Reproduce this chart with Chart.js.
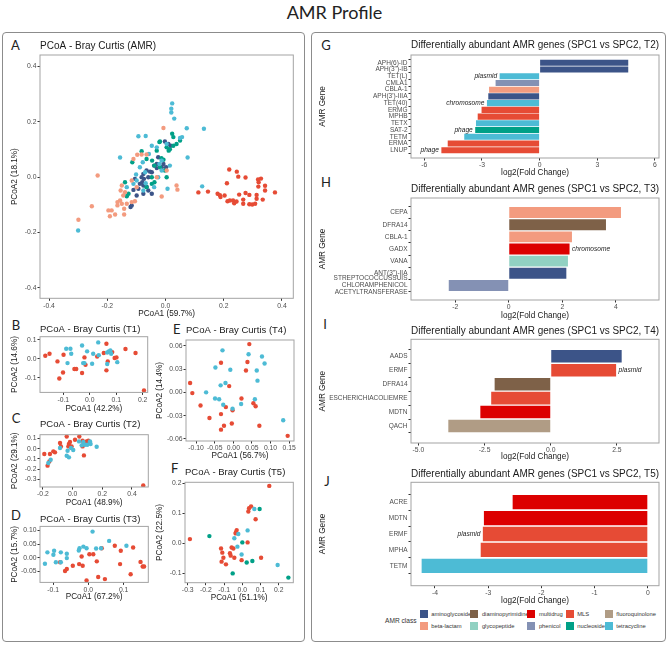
<!DOCTYPE html>
<html>
<head>
<meta charset="utf-8">
<title>AMR Profile</title>
<script src="https://cdn.jsdelivr.net/npm/chart.js@4.4.0/dist/chart.umd.min.js"></script>
<style>
  body { margin: 0; width: 669px; height: 646px; position: relative; background: #fff; overflow: hidden; }
  .box { position: absolute; border: 1px solid #8c8c8c; border-radius: 4px; box-sizing: border-box; }
  .main { position: absolute; left: 0; width: 669px; top: 1px; text-align: center; font-family: Lato, sans-serif; font-size: 18px; line-height: 22px; color: #222; }
  .tag { position: absolute; transform: translate(-50%, -50%); font-family: Lato, sans-serif; font-size: 13px; line-height: 1; color: #222; }
  canvas { position: absolute; }
  .leg { position: absolute; font-family: "Liberation Sans", Arial, sans-serif; color: #333; white-space: nowrap; }
  .leg .sw { position: absolute; width: 8px; height: 8px; }
  .leg span { position: absolute; font-size: 5.8px; line-height: 8px; }
</style>
</head>
<body>
<div class="main">AMR Profile</div>
<div class="box" style="left:2px;top:32px;width:303px;height:610px"></div>
<div class="box" style="left:311px;top:32px;width:355px;height:610px"></div>
<div class="tag" style="left:15.5px;top:44.7px">A</div>
<div class="tag" style="left:16px;top:324.7px">B</div>
<div class="tag" style="left:16px;top:417.8px">C</div>
<div class="tag" style="left:16px;top:515px">D</div>
<div class="tag" style="left:176.7px;top:329px">E</div>
<div class="tag" style="left:174.7px;top:467.8px">F</div>
<div class="tag" style="left:326px;top:45px">G</div>
<div class="tag" style="left:326px;top:181.7px">H</div>
<div class="tag" style="left:325px;top:323.5px">I</div>
<div class="tag" style="left:327px;top:481.3px">J</div>
<div id="legend"></div>
<script>
'use strict';

// * PCoA coordinates [PCoA1, PCoA2], one array per colour group.
const amrSalmon = [[-0.007,0.178],[-0.233,0.006],[-0.253,-0.105],[-0.299,-0.154],[-0.110,0.066],[-0.097,0.081],[-0.082,0.082],[-0.065,0.082],[-0.150,-0.030],[-0.154,-0.048],[-0.145,-0.066],[-0.156,-0.084],[-0.165,-0.090],[-0.150,-0.096],[-0.165,-0.102],[-0.142,-0.114],[-0.133,-0.096],[-0.116,-0.090],[-0.105,-0.087],[-0.196,-0.120],[-0.185,-0.120],[-0.191,-0.141],[-0.173,-0.135],[-0.142,-0.135],[-0.013,-0.070],[0.038,-0.030],[0.041,-0.045],[-0.030,0.000],[0.004,0.024],[-0.116,-0.012],[-0.099,-0.036],[-0.139,-0.054]];
const amrCyan = [[0.023,0.267],[0.020,0.248],[0.020,0.234],[0.030,0.212],[0.073,0.177],[0.132,0.175],[-0.093,0.148],[-0.068,0.149],[-0.156,0.071],[0.076,0.071],[0.126,-0.033],[-0.300,-0.193],[-0.030,0.108],[-0.057,0.084],[-0.013,0.060],[0.015,0.042],[-0.088,0.036],[-0.070,0.018],[-0.101,0.010],[-0.110,-0.024],[-0.021,0.048],[0.007,-0.042],[-0.013,0.024],[0.050,0.142],[0.057,0.145],[-0.047,0.114],[-0.078,0.054],[-0.133,-0.036],[-0.099,-0.012],[-0.068,-0.022],[-0.039,-0.036],[0.004,0.120],[-0.025,0.000],[-0.076,-0.048]];
const amrGreen = [[0.023,0.157],[-0.019,0.129],[0.004,0.108],[0.027,0.114],[0.050,0.133],[0.038,0.120],[-0.082,0.094],[-0.114,0.054],[-0.030,0.096],[-0.014,0.069],[-0.007,0.063],[-0.046,0.060],[-0.019,0.036],[0.004,0.000],[-0.038,-0.018],[-0.065,-0.036],[-0.047,-0.024],[-0.133,-0.069],[-0.139,-0.018],[0.011,0.096],[-0.021,0.127],[-0.065,0.066],[-0.002,0.024],[-0.038,0.042],[0.027,0.145],[0.015,0.101],[-0.047,0.000],[-0.127,-0.060]];
const amrNavy = [[-0.002,0.129],[0.018,0.114],[0.010,0.120],[-0.030,0.048],[-0.039,0.042],[-0.065,0.024],[-0.053,0.020],[-0.047,0.018],[-0.082,0.000],[-0.074,-0.006],[-0.088,-0.024],[-0.076,-0.030],[-0.065,-0.034],[-0.093,-0.042],[-0.120,-0.108],[-0.116,-0.102],[-0.099,-0.066],[-0.076,-0.060],[-0.059,-0.048],[-0.047,-0.060],[-0.110,-0.046],[-0.030,0.033],[-0.013,0.036],[0.002,0.036],[-0.059,0.000],[-0.076,0.012],[-0.025,0.072],[-0.007,0.048],[-0.105,-0.006],[-0.080,-0.018]];
const amrRed = [[0.113,-0.055],[0.146,-0.052],[0.219,0.028],[0.245,0.020],[0.250,0.002],[0.275,-0.001],[0.211,-0.022],[0.179,-0.060],[0.187,-0.065],[0.189,-0.072],[0.203,-0.066],[0.213,-0.087],[0.232,-0.084],[0.236,-0.094],[0.244,-0.088],[0.267,-0.081],[0.267,-0.096],[0.288,-0.064],[0.288,-0.098],[0.298,-0.099],[0.308,-0.096],[0.313,-0.078],[0.318,-0.008],[0.328,-0.005],[0.319,-0.034],[0.342,-0.031],[0.342,-0.048],[0.334,-0.081],[0.376,-0.055],[0.275,-0.057],[0.313,-0.064],[0.320,-0.018],[0.253,-0.063],[0.221,-0.084]];

const t1Red = [[-0.168,0.016],[-0.152,0.026],[-0.122,-0.014],[-0.099,0.021],[-0.101,-0.072],[-0.115,-0.104],[-0.058,-0.054],[-0.051,-0.054],[-0.029,-0.075],[-0.020,0.007],[-0.016,-0.032],[0.028,0.012],[0.053,0.030],[0.063,0.079],[0.068,-0.014],[0.063,-0.061],[0.085,0.035],[0.094,0.004],[0.101,0.007],[0.135,0.051],[0.173,0.030],[0.205,-0.167]];
const t1Cyan = [[-0.089,0.053],[-0.073,0.053],[-0.070,0.026],[-0.029,0.070],[-0.084,-0.023],[-0.025,-0.023],[-0.020,-0.023],[-0.010,0.039],[0.009,-0.026],[0.013,0.026],[0.032,0.086],[0.034,0.019],[0.066,0.033],[0.072,0.039],[0.078,0.044],[0.081,0.026],[0.066,-0.028],[0.104,-0.018]];

const t2Red = [[-0.191,-0.052],[-0.153,-0.052],[-0.130,-0.026],[-0.119,-0.036],[-0.169,-0.167],[-0.157,-0.125],[-0.040,0.121],[-0.085,0.056],[-0.079,0.023],[-0.025,0.046],[-0.029,0.023],[-0.007,0.023],[0.016,0.089],[0.045,0.121],[0.067,0.079],[0.067,0.023],[0.072,0.039],[0.094,0.072],[0.106,0.079],[0.076,-0.066],[0.476,-0.361],[-0.018,0.066]];
const t2Cyan = [[-0.164,-0.141],[-0.148,-0.108],[-0.085,0.007],[-0.040,-0.069],[-0.025,-0.085],[-0.034,-0.020],[-0.011,0.007],[0.004,-0.013],[0.072,0.066],[0.083,0.039],[0.099,0.039],[0.117,0.072],[0.121,0.046],[0.162,0.020],[0.043,0.072],[0.061,0.033]];

const t3Red = [[-0.080,-0.016],[-0.066,-0.048],[-0.061,-0.041],[-0.044,-0.029],[-0.026,-0.023],[-0.019,0.005],[-0.016,-0.029],[-0.005,-0.083],[0.003,0.013],[0.014,0.013],[0.024,-0.013],[0.028,-0.070],[0.038,0.035],[0.047,-0.078],[0.075,0.044],[0.090,-0.023],[0.092,0.026],[0.120,-0.060],[0.127,0.038],[0.148,-0.015],[0.154,-0.032],[0.158,-0.032]];
const t3Cyan = [[-0.123,-0.022],[-0.116,0.020],[-0.099,0.011],[-0.097,0.026],[-0.078,0.020],[-0.092,-0.016],[-0.078,-0.016],[-0.061,0.015],[-0.061,-0.001],[-0.027,0.027],[-0.025,0.035],[-0.014,0.041],[-0.005,0.035],[0.012,0.096],[0.022,0.034],[0.036,0.035],[0.059,0.062],[0.108,0.044]];

const t4Red = [[0.043,0.062],[-0.033,0.038],[0.038,0.039],[0.034,0.028],[-0.116,0.012],[-0.110,-0.001],[-0.088,-0.017],[-0.011,0.008],[-0.020,-0.019],[-0.064,-0.033],[-0.033,-0.028],[0.022,-0.008],[-0.002,-0.023],[0.054,-0.014],[0.060,-0.018],[-0.033,-0.048],[-0.025,-0.043],[-0.004,-0.040],[0.070,-0.043],[0.146,-0.056]];
const t4Cyan = [[-0.029,0.054],[-0.048,0.032],[-0.008,0.029],[0.041,0.049],[0.077,0.046],[0.084,0.037],[0.063,0.028],[0.065,0.015],[-0.034,0.009],[-0.021,0.012],[-0.073,0.000],[-0.049,-0.008],[-0.038,-0.009],[-0.027,-0.016],[-0.002,-0.021],[0.021,-0.015],[0.058,-0.009],[0.134,-0.036]];

const t5Red = [[-0.288,0.014],[-0.117,-0.017],[-0.110,-0.031],[-0.104,-0.048],[-0.114,-0.061],[-0.090,-0.070],[-0.068,-0.033],[-0.064,-0.041],[-0.059,-0.014],[-0.049,-0.017],[-0.044,-0.048],[-0.035,0.037],[-0.031,0.044],[-0.037,0.033],[-0.004,-0.056],[0.029,0.003],[0.033,0.106],[0.037,0.117],[0.048,0.123],[0.073,0.080],[0.103,-0.048],[0.148,0.191]];
const t5Cyan = [[-0.044,0.017],[-0.022,0.031],[-0.027,-0.011],[-0.004,-0.037],[0.029,0.043],[0.066,0.114],[0.194,-0.072]];
const t5Green = [[-0.181,0.024],[0.000,0.003],[0.024,-0.064],[0.055,-0.059],[-0.053,-0.100],[0.095,0.114],[0.253,-0.114]];

// * Tick labels of the PCoA panels.
const ticksA = [-0.4, -0.2, 0, 0.2, 0.4];
const ticksB_x = [-0.1, 0, 0.1, 0.2];
const ticksB_y = [-0.1, 0, 0.1];
const ticksC_x = [-0.2, 0, 0.2, 0.4];
const ticksC_y = [-0.3, -0.2, -0.1, 0, 0.1];
const ticksD_x = [-0.1, 0, 0.1];
const ticksD_y = [-0.05, 0, 0.05, 0.1];
const ticksE_x = [-0.1, -0.05, 0, 0.05, 0.1, 0.15];
const ticksE_y = [-0.06, -0.03, 0, 0.03, 0.06];
const ticksF_x = [-0.3, -0.2, -0.1, 0, 0.1, 0.2];
const ticksF_y = [-0.1, 0, 0.1, 0.2];

// * Differentially abundant genes: name, log2 fold change, AMR class, genomic context notes.
const genesT2 = ['APH(6)-ID', "APH(3'')-IB", 'TET(L)', 'CMLA1', 'CBLA-1', "APH(3')-IIIA", 'TET(40)', 'ERMG', 'MPHB', 'TETX', 'SAT-2', 'TETM', 'ERMA', 'LNUP'];
const lfcT2 = [4.61, 4.61, -2.08, -2.29, -2.63, -2.67, -2.74, -3.02, -3.22, -3.31, -3.35, -3.92, -4.78, -5.11];
const classT2 = ['aminoglycoside', 'aminoglycoside', 'tetracycline', 'phenicol', 'beta-lactam', 'aminoglycoside', 'tetracycline', 'MLS', 'MLS', 'tetracycline', 'nucleoside', 'tetracycline', 'MLS', 'MLS'];
const notesT2 = [['TET(L)', 'plasmid'], ['TET(40)', 'chromosome'], ['SAT-2', 'phage'], ['LNUP', 'phage']];

const genesT3 = ['CEPA', 'DFRA14', 'CBLA-1', 'GADX', 'VANA', "ANT(3'')-IIA", 'STREPTOCOCCUSSUIS\nCHLORAMPHENICOL\nACETYLTRANSFERASE'];
const lfcT3 = [4.19, 3.63, 2.36, 2.27, 2.21, 2.15, -2.24];
const classT3 = ['beta-lactam', 'diaminopyrimidine', 'beta-lactam', 'multidrug', 'glycopeptide', 'aminoglycoside', 'phenicol'];
const notesT3 = [['GADX', 'chromosome']];

const genesT4 = ['AADS', 'ERMF', 'DFRA14', 'ESCHERICHIACOLIEMRE', 'MDTN', 'QACH'];
const lfcT4 = [2.68, 2.47, -2.12, -2.25, -2.66, -3.87];
const classT4 = ['aminoglycoside', 'MLS', 'diaminopyrimidine', 'MLS', 'multidrug', 'fluoroquinolone'];
const notesT4 = [['ERMF', 'plasmid']];

const genesT5 = ['ACRE', 'MDTN', 'ERMF', 'MPHA', 'TETM'];
const lfcT5 = [-2.54, -3.08, -3.10, -3.14, -4.25];
const classT5 = ['multidrug', 'multidrug', 'MLS', 'MLS', 'tetracycline'];
const notesT5 = [['ERMF', 'plasmid']];

const ticksT2 = [-6, -3, 0, 3, 6];
const ticksT3 = [-2, 0, 2, 4];
const ticksT4 = [-5, -2.5, 0, 2.5];
const ticksT5 = [-4, -3, -2, -1, 0];

// * Legend, in the order of the two rows.
const legendClasses = ['aminoglycoside', 'diaminopyrimidine', 'multidrug', 'MLS', 'fluoroquinolone', 'beta-lactam', 'glycopeptide', 'phenicol', 'nucleoside', 'tetracycline'];

const classColor = {
  aminoglycoside: '#3C5488', 'beta-lactam': '#F39B7F', diaminopyrimidine: '#7E6148', glycopeptide: '#91D1C2',
  multidrug: '#DC0000', phenicol: '#8491B4', MLS: '#E64B35', nucleoside: '#00A087',
  fluoroquinolone: '#B09C85', tetracycline: '#4DBBD5',
};
const RED = '#E64B35', CYAN = '#4DBBD5', GREEN = '#00A087', NAVY = '#3C5488', SALMON = '#F39B7F';

const FONT = '"Liberation Sans", Arial, sans-serif';
Chart.defaults.font.family = FONT;
Chart.defaults.color = '#4d4d4d';

// * Grey box round the plotting area, like ggplot's panel border.
const framePlugin = {
  id: 'frame',
  afterDatasetsDraw(chart) {
    const { ctx, chartArea: a } = chart;
    ctx.save();
    ctx.strokeStyle = '#a3a3a3';
    ctx.lineWidth = 1;
    ctx.strokeRect(a.left, a.top, a.right - a.left, a.bottom - a.top);
    ctx.restore();
  },
};

// * Italic context labels (plasmid, chromosome, phage) at the end of a bar.
const notesPlugin = {
  id: 'notes',
  afterDatasetsDraw(chart, args, opts) {
    const { ctx, scales: { x, y } } = chart;
    ctx.save();
    ctx.font = 'italic 6.6px ' + FONT;
    ctx.fillStyle = '#1a1a1a';
    ctx.textBaseline = 'middle';
    (opts.items || []).forEach(({ i, v, text }) => {
      const px = x.getPixelForValue(v);
      ctx.textAlign = v < 0 ? 'right' : 'left';
      ctx.fillText(text, v < 0 ? px - 2.5 : px + 2.5, y.getPixelForValue(i));
    });
    ctx.restore();
  },
};

// * Creates a canvas so that the plotting area lands on the given rectangle.
function place(g, yAxisW, titleSize) {
  const canvas = document.createElement('canvas');
  const lh = titleSize * 1.2;
  const left = g.L - yAxisW;
  const top = g.tY - 3 - lh / 2;
  const xAxisH = g.xtY - g.B + 4.92;
  const w = Math.ceil(g.R - left + 8);
  const h = Math.ceil(g.B + xAxisH - top);
  canvas.width = w;
  canvas.height = h;
  canvas.style.left = left + 'px';
  canvas.style.top = top + 'px';
  document.body.appendChild(canvas);
  return {
    canvas,
    xAxisH,
    yTitlePad: g.ytX - left - 4.92,
    titlePad: { top: 3, bottom: g.T - g.tY - lh / 2 },
    pad: { left: 0, top: 0, right: w - (g.R - left), bottom: h - (g.B + xAxisH - top) },
  };
}

function axis(min, max, ticks, dec, title, fit, titlePad) {
  return {
    type: 'linear', min, max, bounds: 'data',
    afterFit: fit,
    afterBuildTicks: (s) => { s.ticks = ticks.map((v) => ({ value: v })); },
    ticks: { callback: (v) => v.toFixed(dec), font: { size: 6.8 }, color: '#4d4d4d', padding: 1, maxRotation: 0, autoSkip: false },
    grid: { drawOnChartArea: false, tickLength: 2.5, color: '#333' },
    border: { display: false },
    title: { display: true, text: title, color: '#1a1a1a', font: { size: 8.2 }, padding: titlePad },
  };
}

function pcoa(g, title, titleSize, groups, xr, yr, xt, yt, dec, xTitle, yTitle) {
  const p = place(g, 40, titleSize);
  new Chart(p.canvas, {
    type: 'scatter',
    data: {
      datasets: groups.map(([pts, col]) => ({
        data: pts.map(([x, y]) => ({ x, y })),
        backgroundColor: col, borderColor: col, borderWidth: 0, pointRadius: 2.2,
      })),
    },
    options: {
      responsive: false, animation: false, events: [],
      layout: { padding: p.pad },
      plugins: {
        legend: { display: false }, tooltip: { enabled: false },
        title: { display: true, text: title, align: 'start', fullSize: false, color: '#1a1a1a', font: { size: titleSize, weight: 'normal' }, padding: p.titlePad },
      },
      scales: {
        x: axis(xr[0], xr[1], xt, dec[0], xTitle, (s) => { s.height = p.xAxisH; }, { top: 0, bottom: 0 }),
        y: axis(yr[0], yr[1], yt, dec[1], yTitle, (s) => { s.width = 40; }, { top: p.yTitlePad, bottom: 0 }),
      },
    },
    plugins: [framePlugin],
  });
}

function dabar(g, title, genes, lfc, cls, notes, xr, xt, dec) {
  const p = place(g, 95, 10);
  const n = genes.length;
  const yAxis = axis(-0.6, n - 0.4, genes.map((s, i) => i), 0, 'AMR Gene', (s) => { s.width = 95; }, { top: p.yTitlePad, bottom: 0 });
  yAxis.reverse = true;
  yAxis.ticks = { callback: (v) => genes[v].split('\n'), font: { size: 6.5, lineHeight: 1.1 }, color: '#4d4d4d', padding: 1, autoSkip: false };
  new Chart(p.canvas, {
    type: 'bar',
    data: {
      datasets: [{
        data: genes.map((s, i) => ({ x: lfc[i], y: i })),
        backgroundColor: cls.map((c) => classColor[c]),
        borderWidth: 0, categoryPercentage: 1, barPercentage: 0.9,
      }],
    },
    options: {
      indexAxis: 'y', responsive: false, animation: false, events: [],
      layout: { padding: p.pad },
      plugins: {
        legend: { display: false }, tooltip: { enabled: false },
        title: { display: true, text: title, align: 'start', fullSize: false, color: '#1a1a1a', font: { size: 10, weight: 'normal' }, padding: p.titlePad },
        notes: { items: notes.map(([gene, text]) => ({ i: genes.indexOf(gene), v: lfc[genes.indexOf(gene)], text })) },
      },
      scales: {
        x: axis(xr[0], xr[1], xt, dec, 'log2(Fold Change)', (s) => { s.height = p.xAxisH; }, { top: 0, bottom: 0 }),
        y: yAxis,
      },
    },
    plugins: [framePlugin, notesPlugin],
  });
}

pcoa({ L: 40, T: 55, R: 293.3, B: 298.3, tY: 46, xtY: 314, ytX: 15 }, 'PCoA - Bray Curtis (AMR)', 10,
  [[amrSalmon, SALMON], [amrCyan, CYAN], [amrGreen, GREEN], [amrNavy, NAVY], [amrRed, RED]],
  [-0.431, 0.439], [-0.438, 0.442], ticksA, ticksA, [1, 1], 'PCoA1 (59.7%)', 'PCoA2 (18.1%)');
pcoa({ L: 40, T: 337, R: 147.7, B: 392.7, tY: 330, xtY: 409, ytX: 15 }, 'PCoA - Bray Curtis (T1)', 9.5,
  [[t1Cyan, CYAN], [t1Red, RED]], [-0.188, 0.219], [-0.177, 0.116], ticksB_x, ticksB_y, [1, 1], 'PCoA1 (42.2%)', 'PCoA2 (14.6%)');
pcoa({ L: 40, T: 435, R: 148.3, B: 487.3, tY: 425, xtY: 502.7, ytX: 15 }, 'PCoA - Bray Curtis (T2)', 9.5,
  [[t2Cyan, CYAN], [t2Red, RED]], [-0.22, 0.51], [-0.377, 0.138], ticksC_x, ticksC_y, [1, 1], 'PCoA1 (48.9%)', 'PCoA2 (29.1%)');
pcoa({ L: 40, T: 526.7, R: 148.3, B: 582.7, tY: 520, xtY: 597, ytX: 15 }, 'PCoA - Bray Curtis (T3)', 9.5,
  [[t3Cyan, CYAN], [t3Red, RED]], [-0.137, 0.17], [-0.09, 0.115], ticksD_x, ticksD_y, [1, 2], 'PCoA1 (67.2%)', 'PCoA2 (15.7%)');
pcoa({ L: 186, T: 340, R: 294, B: 441, tY: 330.7, xtY: 456, ytX: 160 }, 'PCoA - Bray Curtis (T4)', 9.5,
  [[t4Cyan, CYAN], [t4Red, RED]], [-0.127, 0.163], [-0.0626, 0.0673], ticksE_x, ticksE_y, [2, 2], 'PCoA1 (56.7%)', 'PCoA2 (14.4%)');
pcoa({ L: 185, T: 482.3, R: 293.3, B: 582.7, tY: 472.7, xtY: 597.3, ytX: 160 }, 'PCoA - Bray Curtis (T5)', 9.5,
  [[t5Cyan, CYAN], [t5Green, GREEN], [t5Red, RED]], [-0.315, 0.28], [-0.131, 0.203], ticksF_x, ticksF_y, [1, 1], 'PCoA1 (51.1%)', 'PCoA2 (22.5%)');

dabar({ L: 411, T: 55, R: 659, B: 158, tY: 45, xtY: 172.7, ytX: 323 }, 'Differentially abundant AMR genes (SPC1 vs SPC2, T2)',
  genesT2, lfcT2, classT2, notesT2, [-6.69, 6.21], ticksT2, 0);
dabar({ L: 411, T: 198, R: 659, B: 300, tY: 189, xtY: 315.3, ytX: 323 }, 'Differentially abundant AMR genes (SPC1 vs SPC2, T3)',
  genesT3, lfcT3, classT3, notesT3, [-3.65, 5.61], ticksT3, 0);
dabar({ L: 411, T: 339, R: 659, B: 442.7, tY: 330.7, xtY: 456.7, ytX: 323 }, 'Differentially abundant AMR genes (SPC1 vs SPC2, T4)',
  genesT4, lfcT4, classT4, notesT4, [-5.28, 4.09], ticksT4, 1);
dabar({ L: 411, T: 482.3, R: 659, B: 585.7, tY: 474, xtY: 600.7, ytX: 323 }, 'Differentially abundant AMR genes (SPC1 vs SPC2, T5)',
  genesT5, lfcT5, classT5, notesT5, [-4.45, 0.21], ticksT5, 0);

// * ggplot-style legend under panel J: title on the left, two rows of five keys.
const legend = document.getElementById('legend');
const colX = [419.7, 470.3, 527.3, 565.7, 604.7];
const rowY = [614, 626];
legend.innerHTML = '<div class="leg" style="left:385px;top:616px;font-size:6.6px;line-height:9px">AMR class</div>' +
  legendClasses.map((c, k) => {
    const x = colX[k % 5], y = rowY[Math.floor(k / 5)] - 4;
    return `<div class="leg" style="left:${x}px;top:${y}px"><div class="sw" style="background:${classColor[c]}"></div><span style="left:11.6px">${c}</span></div>`;
  }).join('');
</script>
</body>
</html>
